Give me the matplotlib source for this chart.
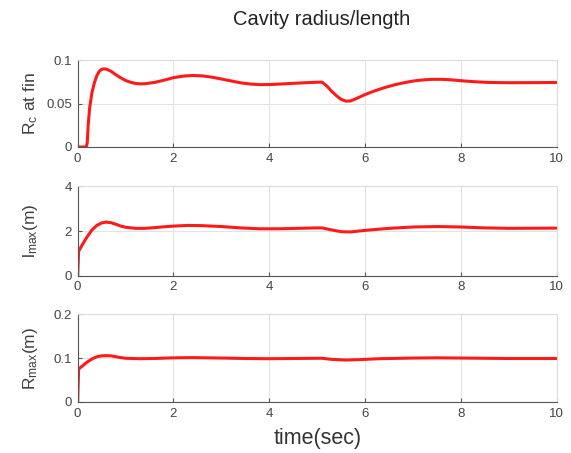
import matplotlib
matplotlib.use("Agg")
import matplotlib.pyplot as plt

plt.rcParams['font.family'] = ['Liberation Sans', 'DejaVu Sans']
plt.rcParams['mathtext.fontset'] = 'custom'
plt.rcParams['mathtext.rm'] = 'Liberation Sans'
plt.rcParams['mathtext.it'] = 'Liberation Sans'

# R_c at fin
t_rc = [0, 0.18, 0.2, 0.22, 0.25, 0.3, 0.35, 0.4, 0.45, 0.5, 0.55, 0.6, 0.7, 0.8, 0.9,
        1.0, 1.1, 1.2, 1.3, 1.4, 1.6, 1.8, 2.0, 2.2, 2.4, 2.6, 2.8, 3.0, 3.2, 3.4, 3.6,
        3.8, 4.0, 4.2, 4.5, 4.8, 5.0, 5.1, 5.2, 5.3, 5.4, 5.5, 5.6, 5.7, 5.8, 6.0, 6.2,
        6.4, 6.6, 6.8, 7.0, 7.2, 7.4, 7.6, 7.8, 8.0, 8.3, 8.6, 9.0, 9.5, 10.0]
rc = [0, 0, 0.005, 0.025, 0.045, 0.063, 0.074, 0.082, 0.087, 0.0893, 0.0898, 0.0895,
      0.087, 0.083, 0.0795, 0.0765, 0.0745, 0.0732, 0.0726, 0.0727, 0.0742, 0.0768,
      0.0797, 0.0815, 0.0822, 0.0818, 0.0803, 0.0782, 0.0760, 0.0738, 0.0724, 0.0717,
      0.0718, 0.0723, 0.0732, 0.0740, 0.0745, 0.0746, 0.0702, 0.0642, 0.0590, 0.0548,
      0.0527, 0.0530, 0.0553, 0.0603, 0.0645, 0.0682, 0.0713, 0.0738, 0.0758, 0.0771,
      0.0778, 0.0778, 0.0772, 0.0762, 0.0750, 0.0742, 0.0739, 0.0740, 0.0742]

# l_max (m)
t_l = [0, 0.02, 0.1, 0.2, 0.3, 0.4, 0.5, 0.6, 0.7, 0.8, 0.9, 1.0, 1.2, 1.4, 1.6, 1.8,
       2.0, 2.3, 2.6, 3.0, 3.4, 3.8, 4.2, 4.6, 5.0, 5.1, 5.3, 5.5, 5.7, 6.0, 6.5, 7.0,
       7.5, 8.0, 8.5, 9.0, 10.0]
lmax = [0, 1.1, 1.4, 1.75, 2.05, 2.25, 2.36, 2.4, 2.37, 2.3, 2.22, 2.17, 2.12, 2.12,
        2.15, 2.19, 2.22, 2.25, 2.24, 2.2, 2.14, 2.1, 2.1, 2.12, 2.14, 2.14, 2.05, 1.97,
        1.96, 2.03, 2.12, 2.18, 2.2, 2.18, 2.14, 2.12, 2.13]

# R_max (m)
t_r = [0, 0.02, 0.1, 0.2, 0.3, 0.4, 0.5, 0.6, 0.7, 0.8, 0.9, 1.0, 1.3, 1.6, 2.0, 2.4,
       3.0, 3.5, 4.0, 4.5, 5.0, 5.1, 5.3, 5.6, 5.9, 6.3, 7.0, 7.5, 8.0, 9.0, 10.0]
rmax = [0, 0.075, 0.082, 0.091, 0.098, 0.103, 0.105, 0.1055, 0.105, 0.103, 0.101,
        0.0995, 0.0985, 0.099, 0.1005, 0.101, 0.1, 0.099, 0.0985, 0.099, 0.0995, 0.0995,
        0.097, 0.0955, 0.0965, 0.0985, 0.1, 0.1005, 0.1, 0.099, 0.099]

series = [(t_rc, rc, r'R$_{\mathrm{c}}$ at fin', [0, 0.05, 0.1], ['0', '0.05', '0.1'], 0.1),
          (t_l, lmax, r'l$_{\mathrm{max}}$(m)', [0, 2, 4], ['0', '2', '4'], 4),
          (t_r, rmax, r'R$_{\mathrm{max}}$(m)', [0, 0.1, 0.2], ['0', '0.1', '0.2'], 0.2)]

fig = plt.figure(figsize=(5.71, 4.53), dpi=100)
rects = [[0.136, 0.6755, 0.839, 0.192],
         [0.136, 0.391, 0.839, 0.198],
         [0.136, 0.1126, 0.839, 0.194]]

for rect, (t, y, lab, yt, ytl, ymax) in zip(rects, series):
    ax = fig.add_axes(rect)
    ax.plot(t, y, color='#ff1a1a', lw=2.2, solid_capstyle='round')
    ax.set_xlim(0, 10)
    ax.set_ylim(0, ymax)
    ax.set_xticks([0, 2, 4, 6, 8, 10])
    ax.set_yticks(yt)
    ax.set_yticklabels(ytl)
    ax.grid(True, color='#e3e3e3', lw=0.8)
    ax.set_axisbelow(True)
    for s in ['top', 'right']:
        ax.spines[s].set_color('#dcdcdc')
        ax.spines[s].set_linewidth(0.8)
    for s in ['left', 'bottom']:
        ax.spines[s].set_color('#555555')
        ax.spines[s].set_linewidth(0.8)
    ax.tick_params(direction='in', length=3, width=0.8, color='#555555',
                   labelsize=9.5, labelcolor='#444444', pad=4)
    ax.set_ylabel(lab, fontsize=12.5, color='#404040')
    ax.yaxis.set_label_coords(-0.078, 0.5)

fig.text(0.563, 0.956, 'Cavity radius/length', ha='center', va='center',
         fontsize=14.5, color='#222222')
fig.text(0.557, 0.031, 'time(sec)', ha='center', va='center',
         fontsize=15.5, color='#333333')

fig.savefig('out.png', dpi=100)
